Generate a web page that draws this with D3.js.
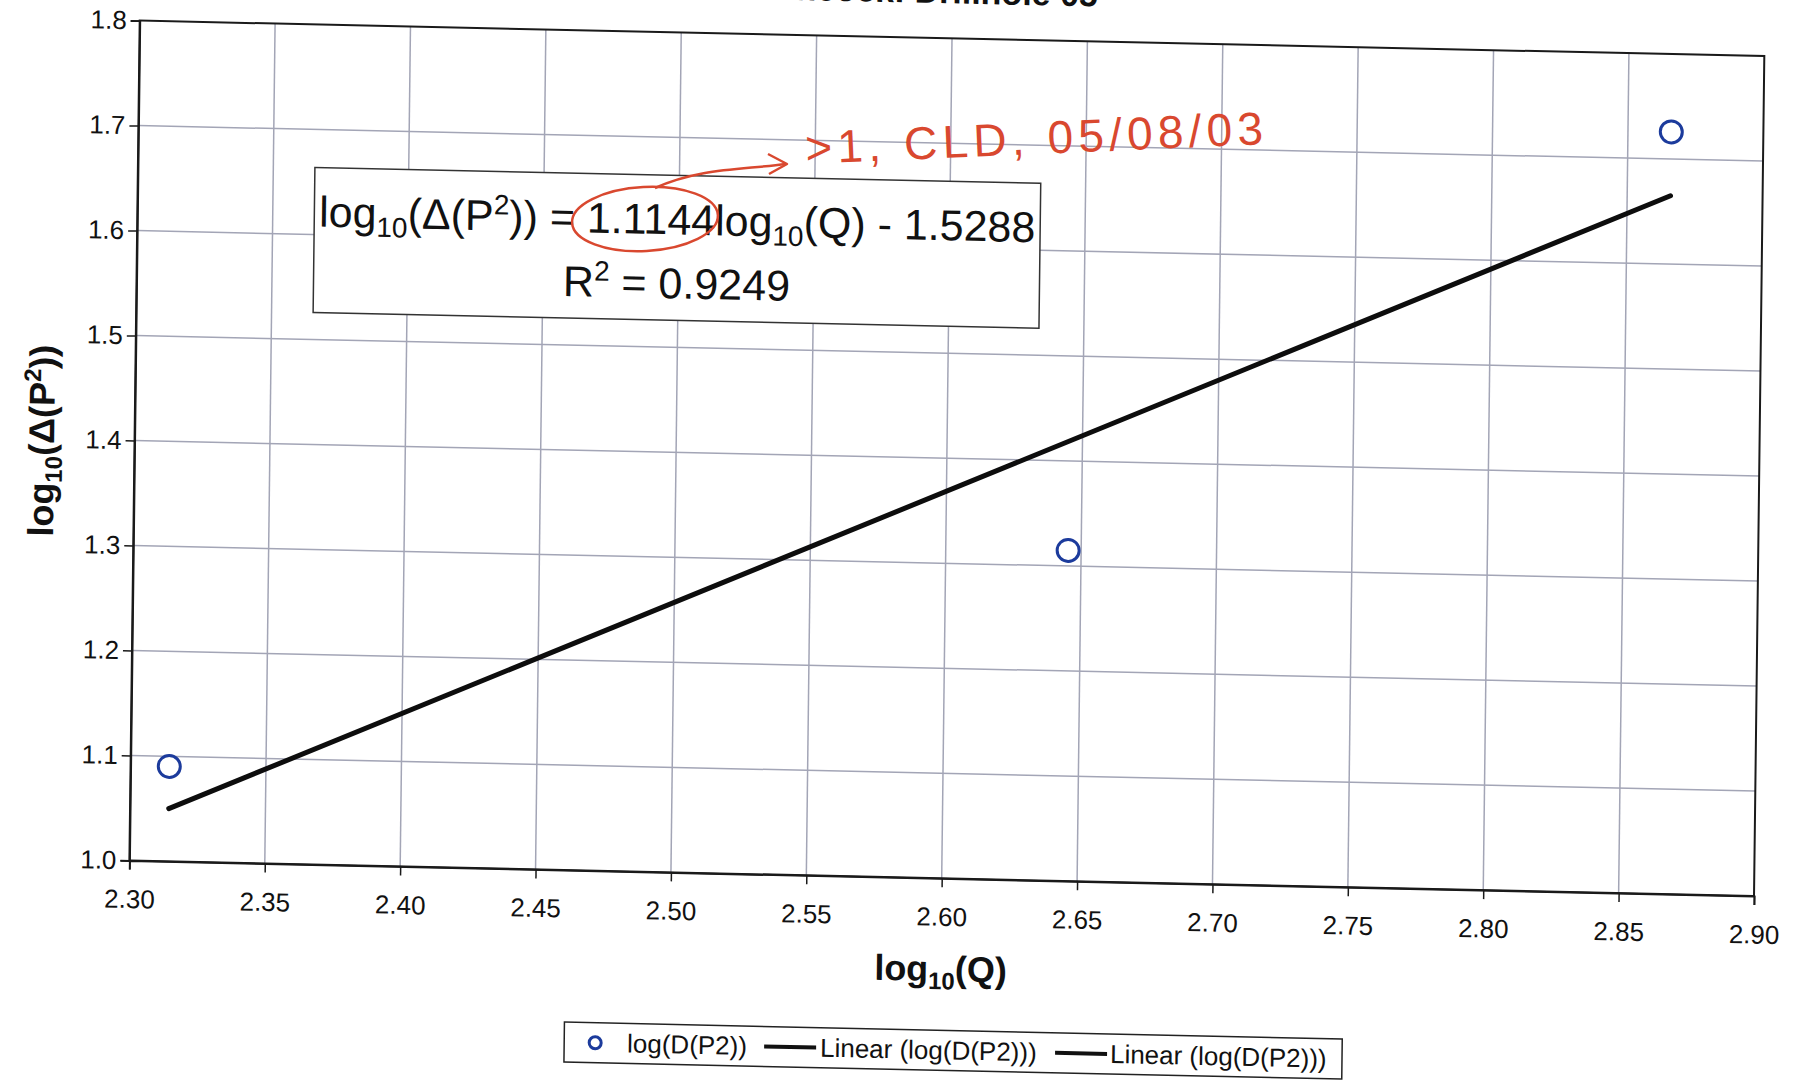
<!DOCTYPE html>
<html>
<head>
<meta charset="utf-8">
<script src="https://cdn.jsdelivr.net/npm/d3@7"></script>
<style>
  html, body { margin: 0; padding: 0; background: #fff; }
  svg { display: block; }
  text { font-family: "Liberation Sans", Arial, sans-serif; }
</style>
</head>
<body>
<svg id="chart" width="1795" height="1083"></svg>
<script>
// Measured series: log10 of flow rate Q and log10 of the squared-pressure drop
const logQ = [2.3143, 2.6452, 2.8660];
const logDP2 = [1.0904, 1.3148, 1.7259];

// Least-squares fit reported on the chart
const fitSlope = 1.1144;
const fitIntercept = -1.5288;
const fitR2 = 0.9249;

// Axis ticks
const xTicks = [2.30, 2.35, 2.40, 2.45, 2.50, 2.55, 2.60, 2.65, 2.70, 2.75, 2.80, 2.85, 2.90];
const yTicks = [1.0, 1.1, 1.2, 1.3, 1.4, 1.5, 1.6, 1.7, 1.8];

// Legend entries
const legendLabels = ["log(D(P2))", "Linear (log(D(P2)))", "Linear (log(D(P2)))"];

const titleText = "Hancock: Drillhole 05";
const noteText = ">1, CLD, 05/08/03";

const svg = d3.select("#chart");
svg.append("rect").attr("width", 1795).attr("height", 1083).attr("fill", "#fff");

const W = 1625, H = 840;
const x = d3.scaleLinear().domain([2.30, 2.90]).range([0, W]);
const y = d3.scaleLinear().domain([1.0, 1.8]).range([H, 0]);

// The printed sheet sits slightly askew on the page
const g = svg.append("g")
  .attr("transform", "matrix(0.99976,0.02184,-0.01226,0.99992,139.7,20.6)");

// Title (runs off the top edge of the sheet)
g.append("text")
  .attr("x", 785).attr("y", -35)
  .attr("text-anchor", "middle")
  .attr("font-size", 34).attr("font-weight", "bold")
  .attr("fill", "#111")
  .text(titleText);

// Plot area
g.append("rect").attr("x", 0).attr("y", 0).attr("width", W).attr("height", H)
  .attr("fill", "#fff");

// Gridlines
const gridColor = "#a3a5b6";
g.append("g").selectAll("line").data(xTicks.slice(1, -1)).join("line")
  .attr("x1", d => x(d)).attr("x2", d => x(d))
  .attr("y1", 0).attr("y2", H)
  .attr("stroke", gridColor).attr("stroke-width", 1.5);
g.append("g").selectAll("line").data(yTicks.slice(1, -1)).join("line")
  .attr("x1", 0).attr("x2", W)
  .attr("y1", d => y(d)).attr("y2", d => y(d))
  .attr("stroke", gridColor).attr("stroke-width", 1.5);

// Plot border
g.append("rect").attr("x", 0).attr("y", 0).attr("width", W).attr("height", H)
  .attr("fill", "none").attr("stroke", "#1a1a1a").attr("stroke-width", 2);

// Axes
const xAxis = g.append("g").attr("transform", `translate(0,${H})`)
  .call(d3.axisBottom(x).tickValues(xTicks).tickFormat(d3.format(".2f"))
    .tickSize(9).tickPadding(20));
const yAxis = g.append("g")
  .call(d3.axisLeft(y).tickValues(yTicks).tickFormat(d3.format(".1f"))
    .tickSize(9).tickPadding(4));
[xAxis, yAxis].forEach(a => {
  a.select(".domain").attr("stroke", "#1a1a1a").attr("stroke-width", 2);
  a.selectAll(".tick line").attr("stroke", "#1a1a1a").attr("stroke-width", 1.5);
  a.selectAll(".tick text").attr("font-size", 26).attr("fill", "#111")
    .attr("font-family", "'Liberation Sans', Arial, sans-serif");
});

// Axis titles
const xTitle = g.append("text")
  .attr("x", W / 2).attr("y", H + 103)
  .attr("text-anchor", "middle")
  .attr("font-size", 36).attr("font-weight", "bold").attr("fill", "#111");
xTitle.append("tspan").text("log");
xTitle.append("tspan").attr("font-size", 24).attr("dy", 8).text("10");
xTitle.append("tspan").attr("dy", -8).text("(Q)");

const yTitle = g.append("text")
  .attr("transform", "translate(-93,422) rotate(-90)")
  .attr("text-anchor", "middle").attr("dy", "0.35em")
  .attr("font-size", 36).attr("font-weight", "bold").attr("fill", "#111");
yTitle.append("tspan").text("log");
yTitle.append("tspan").attr("font-size", 24).attr("dy", 8).text("10");
yTitle.append("tspan").attr("dy", -8).text("(Δ(P");
yTitle.append("tspan").attr("font-size", 24).attr("dy", -14).text("2");
yTitle.append("tspan").attr("dy", 14).text("))");

// Trend line over the range of the data
const xExt = d3.extent(logQ);
const fitPts = xExt.map(v => [v, fitSlope * v + fitIntercept]);
g.append("path")
  .datum(fitPts)
  .attr("d", d3.line().x(d => x(d[0])).y(d => y(d[1])))
  .attr("stroke", "#0d0d0d").attr("stroke-width", 5).attr("fill", "none")
  .attr("stroke-linecap", "round");

// Data points
g.append("g").selectAll("circle").data(logQ.map((v, i) => [v, logDP2[i]])).join("circle")
  .attr("cx", d => x(d[0])).attr("cy", d => y(d[1]))
  .attr("r", 11).attr("fill", "none")
  .attr("stroke", "#1c3b9c").attr("stroke-width", 3);

// Equation box
const eq = g.append("g");
eq.append("rect").attr("x", 177).attr("y", 143).attr("width", 726).attr("height", 145)
  .attr("fill", "#fff").attr("stroke", "#333").attr("stroke-width", 1.5);
const l1 = eq.append("text").attr("x", 540).attr("y", 202).attr("text-anchor", "middle")
  .attr("font-size", 43).attr("fill", "#111");
l1.append("tspan").text("log");
l1.append("tspan").attr("font-size", 28).attr("dy", 9).text("10");
l1.append("tspan").attr("dy", -9).text("(Δ(P");
l1.append("tspan").attr("font-size", 28).attr("dy", -16).text("2");
l1.append("tspan").attr("dy", 16).text(`)) = ${fitSlope.toFixed(4)}log`);
l1.append("tspan").attr("font-size", 28).attr("dy", 9).text("10");
l1.append("tspan").attr("dy", -9).text(`(Q) - ${Math.abs(fitIntercept).toFixed(4)}`);

const l2 = eq.append("text").attr("x", 540).attr("y", 266).attr("text-anchor", "middle")
  .attr("font-size", 43).attr("fill", "#111");
l2.append("tspan").text("R");
l2.append("tspan").attr("font-size", 28).attr("dy", -16).text("2");
l2.append("tspan").attr("dy", 16).text(` = ${fitR2.toFixed(4)}`);

// Legend
const lg = g.append("g").attr("transform", "translate(437,992)");
lg.append("rect").attr("width", 778).attr("height", 40)
  .attr("fill", "#fff").attr("stroke", "#222").attr("stroke-width", 1.5);
lg.append("circle").attr("cx", 31).attr("cy", 20).attr("r", 6)
  .attr("fill", "none").attr("stroke", "#1c3b9c").attr("stroke-width", 3);
const legendX = [63, 256, 546];
const lineX = [null, [200, 252], [491, 543]];
legendLabels.forEach((t, i) => {
  if (lineX[i]) {
    lg.append("line").attr("x1", lineX[i][0]).attr("x2", lineX[i][1])
      .attr("y1", 20).attr("y2", 20).attr("stroke", "#111").attr("stroke-width", 4);
  }
  lg.append("text").attr("x", legendX[i]).attr("y", 29)
    .attr("font-size", 26).attr("fill", "#111").text(t);
});

// Handwritten red note and circled slope
const red = "#d9482f";
const note = svg.append("g");
note.append("ellipse").attr("cx", 645).attr("cy", 219).attr("rx", 73).attr("ry", 32)
  .attr("fill", "none").attr("stroke", red).attr("stroke-width", 2.5)
  .attr("transform", "rotate(-3,645,219)");
note.append("path")
  .attr("d", "M655,188 C700,168 740,170 786,164")
  .attr("fill", "none").attr("stroke", red).attr("stroke-width", 2.5);
note.append("path")
  .attr("d", "M768,154 L787,164 L769,174")
  .attr("fill", "none").attr("stroke", red).attr("stroke-width", 2.5)
  .attr("stroke-linejoin", "round");
note.append("text")
  .attr("x", 806).attr("y", 164)
  .attr("transform", "rotate(-2.5,806,164)")
  .attr("font-family", "'DejaVu Sans', sans-serif")
  .attr("font-weight", 200)
  .attr("font-size", 46).attr("fill", red)
  .attr("textLength", 458).attr("lengthAdjust", "spacing")
  .text(noteText);
</script>
</body>
</html>
